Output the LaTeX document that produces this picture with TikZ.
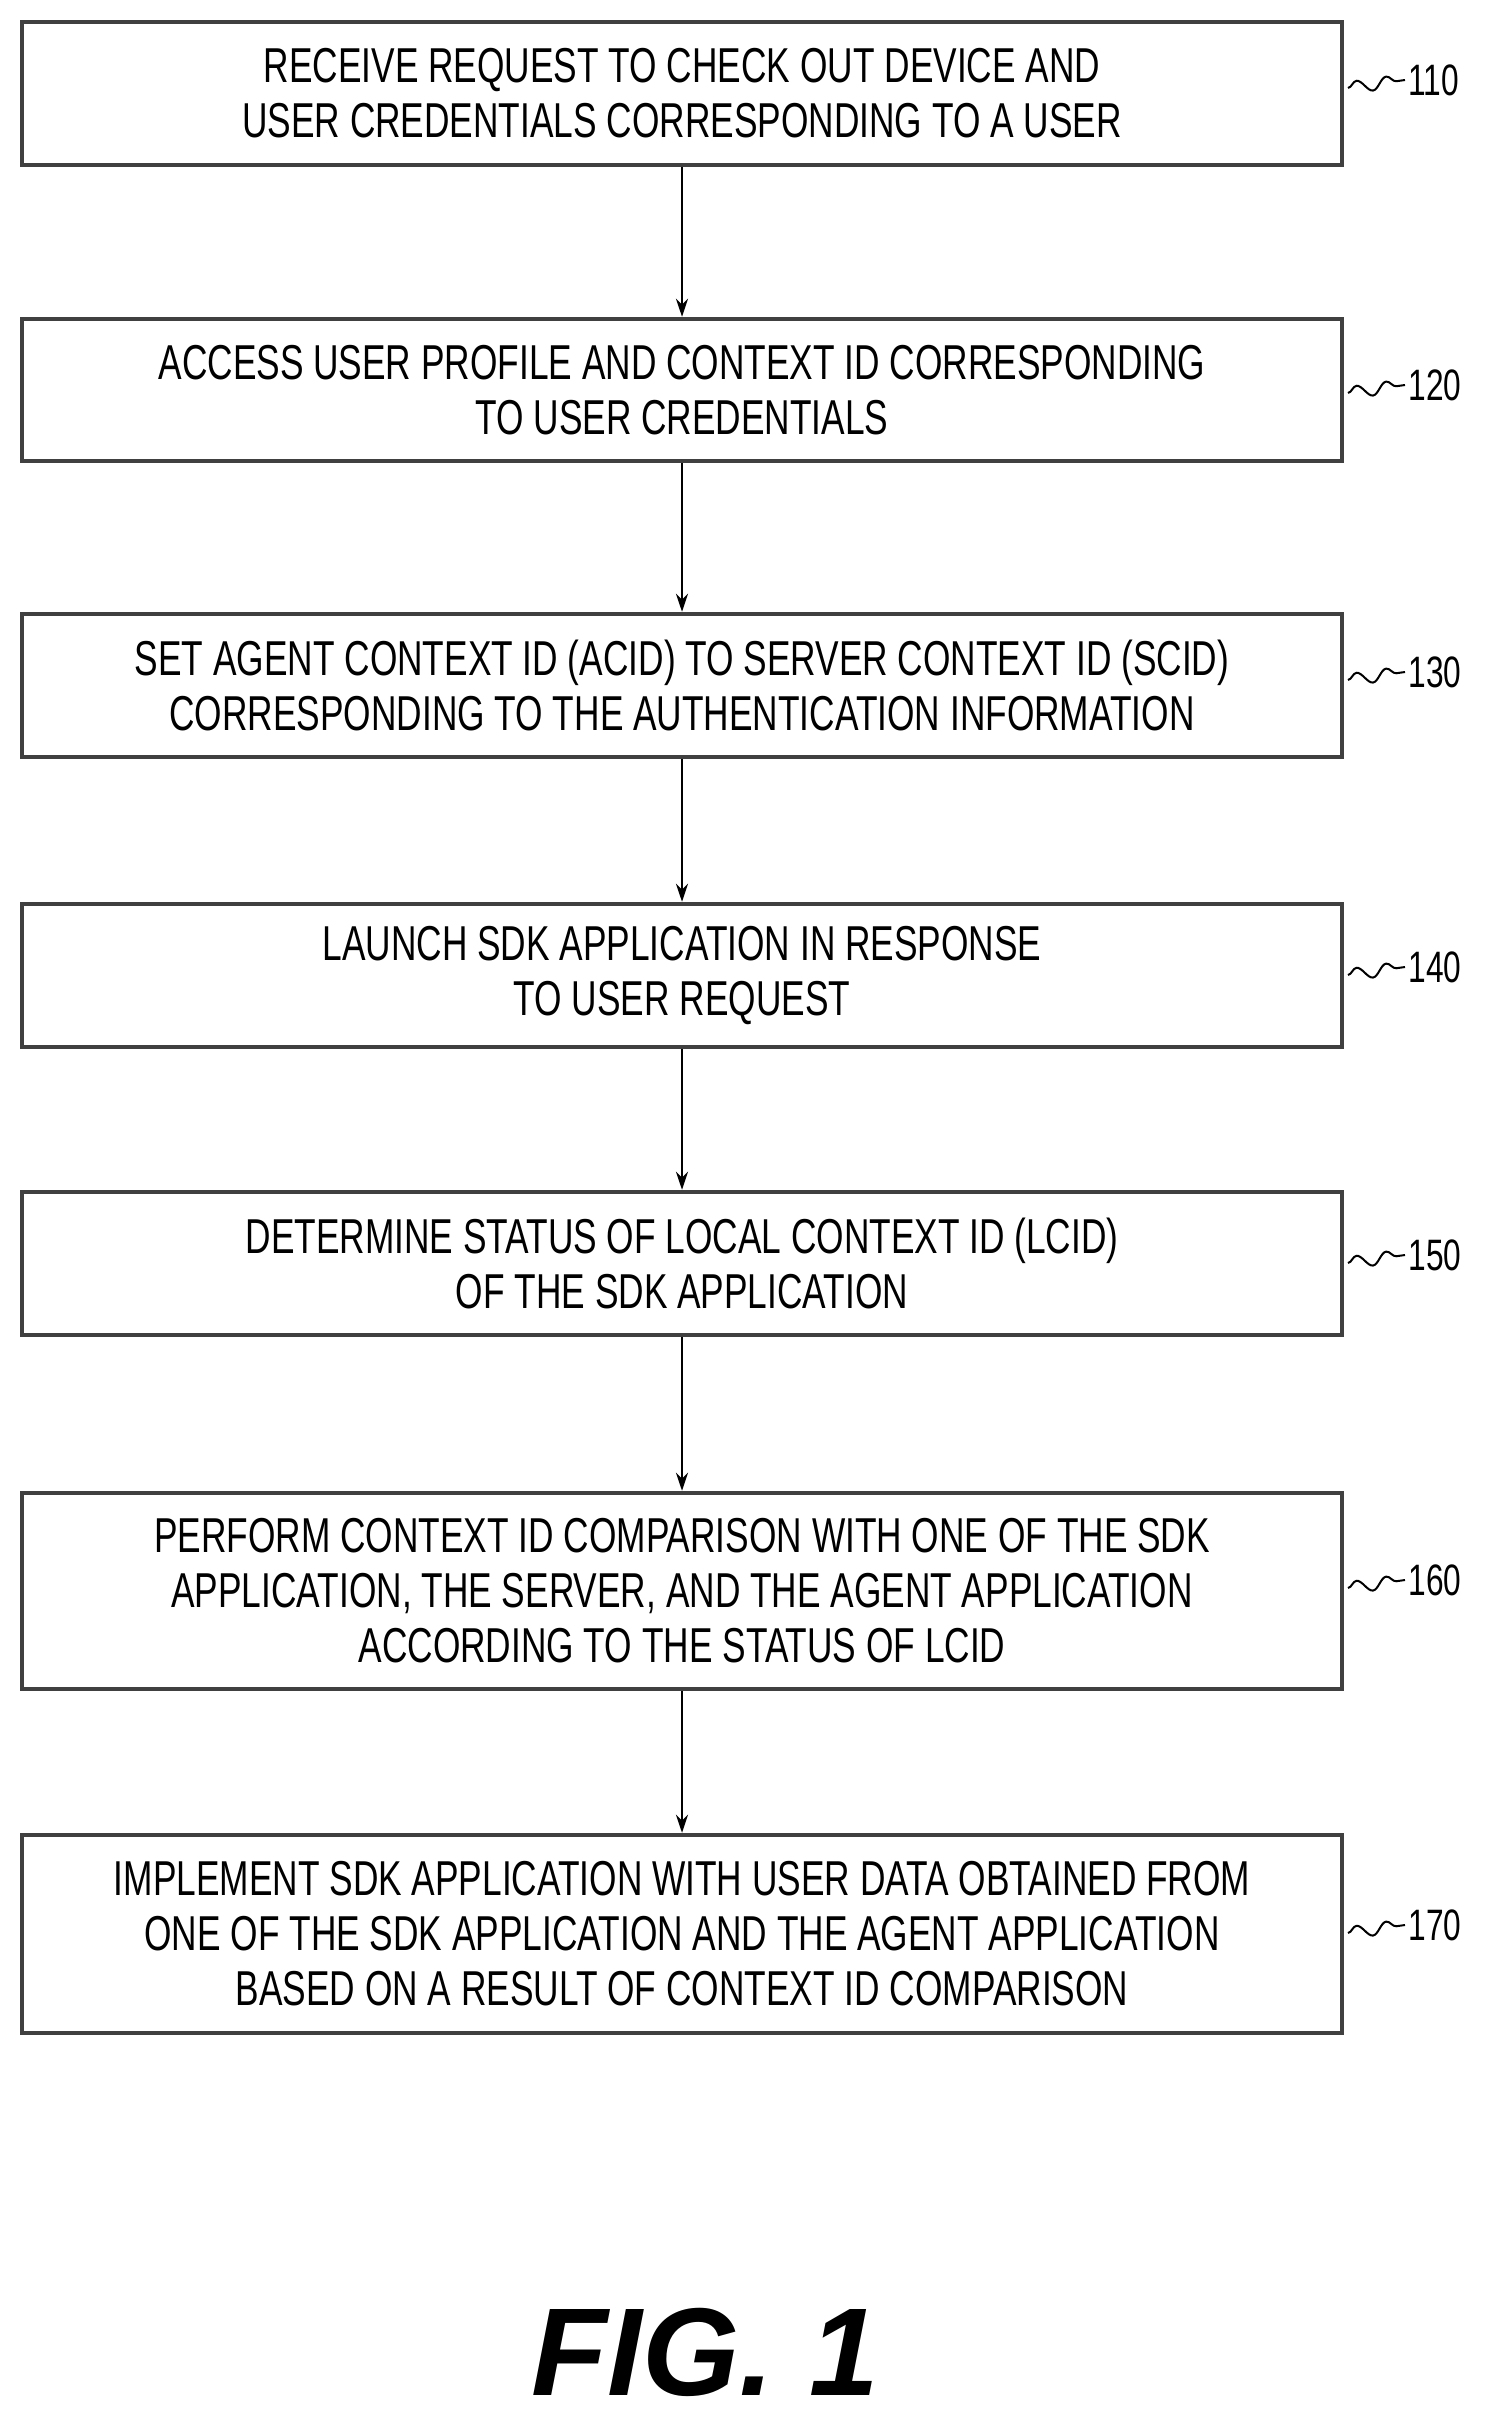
\documentclass[tikz,border=0pt]{standalone}
\usepackage{fontspec}
\setmainfont[FakeStretch=0.72]{Liberation Sans}
\newfontfamily\figfont{Liberation Sans}
\usetikzlibrary{arrows.meta,decorations.pathmorphing}
\begin{document}
\begin{tikzpicture}[x=1pt,y=-1pt,
 box/.style={draw=black!75,line width=4.5pt,minimum width=1320pt,align=center,font=\fontsize{49}{55}\selectfont,inner sep=0pt},
 arr/.style={draw,line width=2pt,-{Stealth[length=18pt,width=12pt]}},
 lab/.style={font=\fontsize{44}{50}\selectfont,anchor=west},
 sq/.style={line width=2pt,decorate,decoration={snake,amplitude=6pt,segment length=30pt}}]
\useasboundingbox (0,0) rectangle (1488,2421);
\node[box,minimum height=143pt] (b110) at (682,93.5) {RECEIVE REQUEST TO CHECK OUT DEVICE AND\\USER CREDENTIALS CORRESPONDING TO A USER};
\node[box,minimum height=142pt] (b120) at (682,390) {ACCESS USER PROFILE AND CONTEXT ID CORRESPONDING\\TO USER CREDENTIALS};
\node[box,minimum height=143pt] (b130) at (682,685.5) {SET AGENT CONTEXT ID (ACID) TO SERVER CONTEXT ID (SCID)\\CORRESPONDING TO THE AUTHENTICATION INFORMATION};
\node[box,minimum height=143pt] (b140) at (682,975.5) {LAUNCH SDK APPLICATION IN RESPONSE\\TO USER REQUEST};
\node[box,minimum height=143pt] (b150) at (682,1263.5) {DETERMINE STATUS OF LOCAL CONTEXT ID (LCID)\\OF THE SDK APPLICATION};
\node[box,minimum height=196pt] (b160) at (682,1591) {PERFORM CONTEXT ID COMPARISON WITH ONE OF THE SDK\\APPLICATION, THE SERVER, AND THE AGENT APPLICATION\\ACCORDING TO THE STATUS OF LCID};
\node[box,minimum height=198pt] (b170) at (682,1934) {IMPLEMENT SDK APPLICATION WITH USER DATA OBTAINED FROM\\ONE OF THE SDK APPLICATION AND THE AGENT APPLICATION\\BASED ON A RESULT OF CONTEXT ID COMPARISON};
\draw[arr] (b110) -- (b120);
\draw[arr] (b120) -- (b130);
\draw[arr] (b130) -- (b140);
\draw[arr] (b140) -- (b150);
\draw[arr] (b150) -- (b160);
\draw[arr] (b160) -- (b170);
\foreach \n/\t/\y in {b110/110/80,b120/120/385,b130/130/672,b140/140/967,b150/150/1255,b160/160/1580,b170/170/1925}{
 \node[lab] (l\t) at (1405,\y) {\t};
 \coordinate (s\t) at (1348,\y+8);
 \draw[sq] (s\t) -- (l\t.west);
}
\node[font=\figfont\bfseries\itshape\fontsize{125}{130}\selectfont] (fig) at (705,2352) {FIG. 1};
\end{tikzpicture}
\end{document}
